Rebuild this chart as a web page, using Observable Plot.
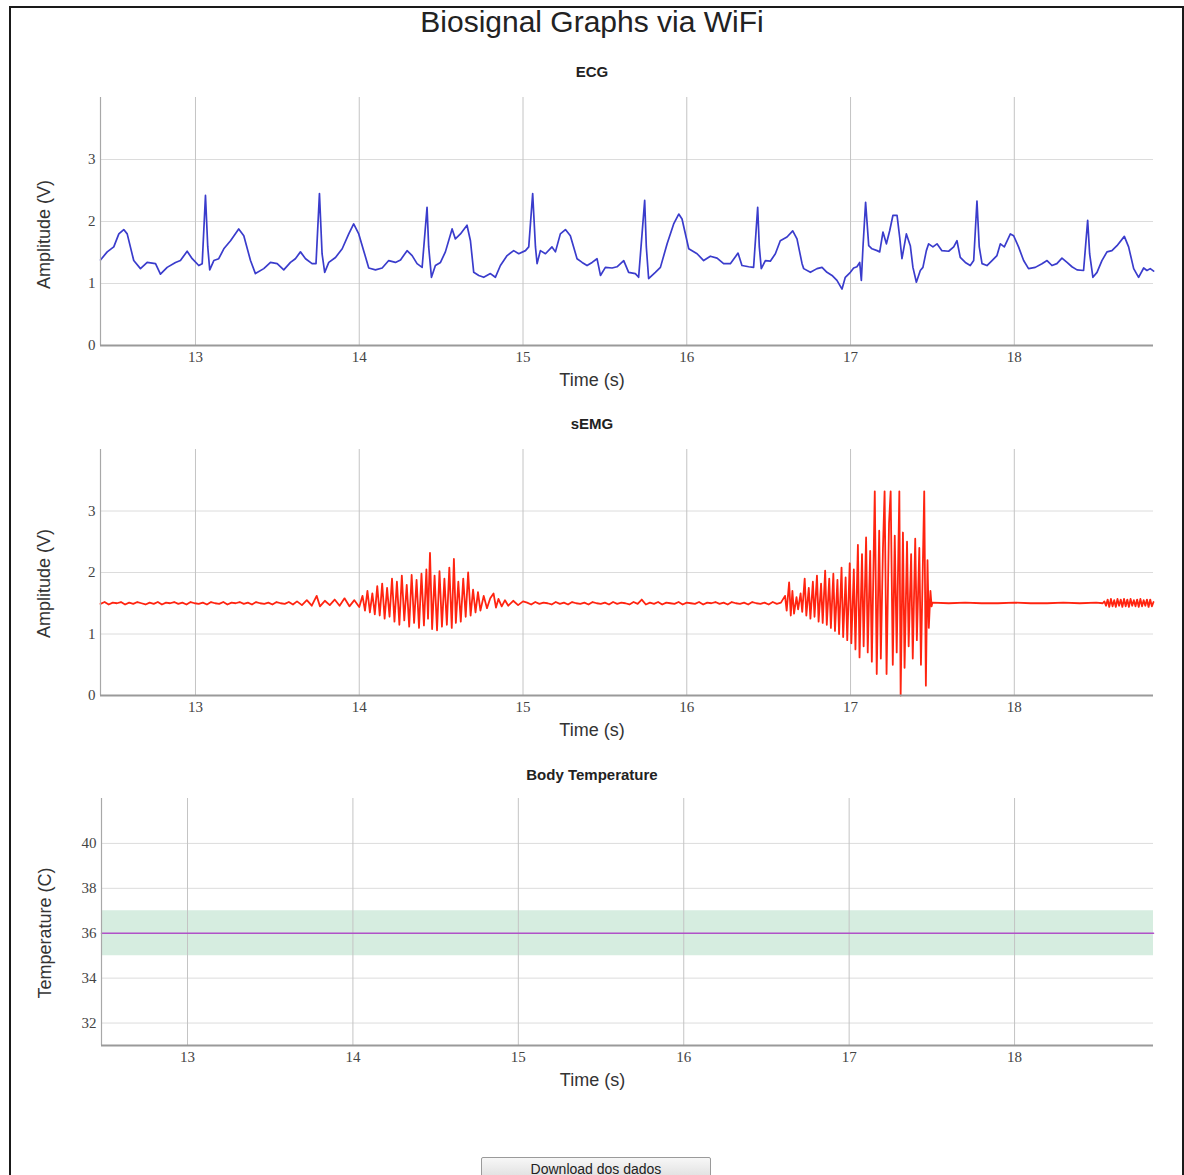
<!DOCTYPE html>
<html>
<head>
<meta charset="utf-8">
<script src="https://cdn.jsdelivr.net/npm/d3@7"></script>
<script src="https://cdn.jsdelivr.net/npm/@observablehq/plot@0.6"></script>
<style>
  html, body { margin: 0; padding: 0; background: #fff; overflow: hidden; }
  #page { position: relative; width: 1184px; height: 1175px; font-family: "Liberation Sans", Arial, sans-serif; }
  #frame { position: absolute; left: 9px; top: 6px; width: 1171px; height: 1200px; border: 2px solid #1a1a1a; }
  h1 { position: absolute; left: 0; top: 5px; width: 1184px; margin: 0; text-align: center;
       font-weight: normal; font-size: 30px; line-height: 34px; color: #222; }
  .ptitle { position: absolute; left: 0; width: 1184px; text-align: center; font-weight: bold;
            font-size: 15px; line-height: 18px; color: #222; }
  .panel { position: absolute; left: 0; }
  #download { position: absolute; left: 481px; top: 1157px; width: 230px; height: 24px;
              font-family: "Liberation Sans", Arial, sans-serif; font-size: 14px; color: #222;
              background: linear-gradient(#f7f7f7, #dddddd); border: 1px solid #9a9a9a; border-radius: 2px; padding: 0; }
</style>
</head>
<body>
<div id="page">
  <div id="frame"></div>
  <h1>Biosignal Graphs via WiFi</h1>
  <div class="ptitle" style="top:63px">ECG</div>
  <div class="panel" id="ecg" style="top:87px"></div>
  <div class="ptitle" style="top:415px">sEMG</div>
  <div class="panel" id="emg" style="top:439px"></div>
  <div class="ptitle" style="top:766px">Body Temperature</div>
  <div class="panel" id="temp" style="top:788px"></div>
  <button id="download">Download dos dados</button>
</div>
<script>
// Shared time ticks (seconds)
const timeTicks = [13, 14, 15, 16, 17, 18];
const ecgTimeDomain = [12.42, 18.85];
const tempTimeDomain = [12.48, 18.84];
const voltDomain = [0, 4];
const voltTicks = [0, 1, 2, 3];
const voltGrid = [1, 2, 3];
const tempDomain = [31, 42];
const tempTicks = [32, 34, 36, 38, 40];

// ECG samples: time (s) and amplitude (V)
const ecgTime = [
  12.420, 12.461, 12.501, 12.532, 12.562, 12.583, 12.623, 12.664, 12.705, 12.756,
  12.786, 12.827, 12.878, 12.908, 12.949, 12.980, 13.020, 13.041, 13.061, 13.075,
  13.087, 13.112, 13.142, 13.173, 13.214, 13.264, 13.295, 13.336, 13.366, 13.417,
  13.458, 13.499, 13.539, 13.580, 13.610, 13.641, 13.672, 13.712, 13.736, 13.757,
  13.773, 13.789, 13.814, 13.855, 13.896, 13.936, 13.966, 13.997, 14.027, 14.058,
  14.099, 14.140, 14.180, 14.221, 14.252, 14.292, 14.323, 14.353, 14.384, 14.414,
  14.424, 14.441, 14.465, 14.496, 14.526, 14.567, 14.587, 14.618, 14.658, 14.679,
  14.699, 14.730, 14.760, 14.801, 14.831, 14.862, 14.903, 14.943, 14.974, 15.015,
  15.035, 15.059, 15.076, 15.086, 15.106, 15.137, 15.177, 15.198, 15.228, 15.259,
  15.289, 15.330, 15.361, 15.391, 15.422, 15.452, 15.473, 15.503, 15.544, 15.574,
  15.615, 15.645, 15.686, 15.706, 15.743, 15.753, 15.767, 15.808, 15.839, 15.880,
  15.920, 15.951, 15.971, 16.012, 16.063, 16.103, 16.144, 16.185, 16.225, 16.266,
  16.313, 16.337, 16.378, 16.408, 16.433, 16.443, 16.455, 16.480, 16.510, 16.541,
  16.571, 16.612, 16.647, 16.673, 16.704, 16.714, 16.755, 16.795, 16.826, 16.856,
  16.887, 16.917, 16.948, 16.968, 16.999, 17.019, 17.039, 17.056, 17.066, 17.076,
  17.092, 17.111, 17.131, 17.162, 17.178, 17.198, 17.219, 17.239, 17.259, 17.284,
  17.300, 17.314, 17.341, 17.365, 17.381, 17.402, 17.426, 17.442, 17.463, 17.477,
  17.503, 17.528, 17.558, 17.599, 17.630, 17.650, 17.670, 17.701, 17.731, 17.752,
  17.772, 17.786, 17.803, 17.833, 17.864, 17.894, 17.915, 17.939, 17.976, 17.996,
  18.026, 18.057, 18.087, 18.128, 18.169, 18.200, 18.230, 18.260, 18.291, 18.322,
  18.352, 18.383, 18.423, 18.448, 18.460, 18.480, 18.505, 18.535, 18.566, 18.596,
  18.627, 18.672, 18.698, 18.729, 18.759, 18.790, 18.810, 18.830, 18.851
];
const ecgValue = [
  1.38, 1.51, 1.59, 1.80, 1.87, 1.80, 1.37, 1.24, 1.34, 1.32,
  1.15, 1.26, 1.34, 1.37, 1.52, 1.40, 1.29, 1.32, 2.42, 1.59,
  1.22, 1.37, 1.40, 1.56, 1.69, 1.88, 1.77, 1.37, 1.16, 1.24,
  1.34, 1.32, 1.22, 1.34, 1.40, 1.51, 1.40, 1.32, 1.32, 2.45,
  1.48, 1.18, 1.34, 1.42, 1.56, 1.80, 1.96, 1.80, 1.53, 1.25,
  1.22, 1.25, 1.37, 1.34, 1.38, 1.53, 1.45, 1.32, 1.26, 2.23,
  1.59, 1.10, 1.29, 1.34, 1.51, 1.88, 1.72, 1.80, 1.94, 1.69,
  1.18, 1.13, 1.10, 1.16, 1.10, 1.29, 1.45, 1.53, 1.48, 1.53,
  1.59, 2.45, 1.59, 1.32, 1.53, 1.48, 1.59, 1.51, 1.80, 1.87,
  1.77, 1.40, 1.34, 1.29, 1.34, 1.40, 1.13, 1.26, 1.25, 1.27,
  1.37, 1.18, 1.16, 1.10, 2.34, 1.59, 1.08, 1.18, 1.26, 1.64,
  1.96, 2.12, 2.04, 1.56, 1.48, 1.37, 1.44, 1.41, 1.32, 1.32,
  1.49, 1.29, 1.27, 1.26, 2.23, 1.59, 1.24, 1.37, 1.36, 1.48,
  1.69, 1.75, 1.85, 1.72, 1.32, 1.24, 1.18, 1.24, 1.26, 1.18,
  1.13, 1.05, 0.91, 1.10, 1.18, 1.25, 1.27, 1.34, 1.05, 1.59,
  2.31, 1.61, 1.56, 1.53, 1.51, 1.83, 1.64, 1.85, 2.10, 2.10,
  1.75, 1.40, 1.80, 1.61, 1.26, 1.02, 1.21, 1.26, 1.53, 1.64,
  1.59, 1.64, 1.53, 1.52, 1.59, 1.69, 1.42, 1.34, 1.29, 1.37,
  2.33, 1.59, 1.32, 1.29, 1.37, 1.45, 1.64, 1.59, 1.80, 1.77,
  1.59, 1.37, 1.24, 1.26, 1.32, 1.37, 1.29, 1.32, 1.41, 1.34,
  1.27, 1.22, 1.21, 2.02, 1.48, 1.10, 1.18, 1.37, 1.51, 1.53,
  1.61, 1.76, 1.59, 1.24, 1.10, 1.25, 1.21, 1.24, 1.20
];

// sEMG samples: time (s) and amplitude (V)
const emgTime = [
  // resting baseline
  12.420, 12.445, 12.470, 12.495, 12.520, 12.545, 12.570, 12.595, 12.620, 12.645,
  12.670, 12.695, 12.720, 12.745, 12.770, 12.795, 12.820, 12.845, 12.870, 12.895,
  12.920, 12.945, 12.970, 12.995, 13.020, 13.045, 13.070, 13.095, 13.120, 13.145,
  13.170, 13.195, 13.220, 13.245, 13.270, 13.295, 13.320, 13.345, 13.370, 13.395,
  13.420, 13.445, 13.470, 13.495, 13.520, 13.545, 13.570, 13.595,
  // onset of first contraction
  13.62, 13.65, 13.68, 13.71, 13.74, 13.76, 13.79, 13.82, 13.85, 13.88,
  13.91, 13.94, 13.97, 14.00,
  // first contraction
  14.020, 14.035, 14.050, 14.065, 14.080, 14.095, 14.110, 14.125, 14.140, 14.155,
  14.170, 14.185, 14.200, 14.215, 14.230, 14.245, 14.260, 14.275, 14.290, 14.305,
  14.320, 14.335, 14.350, 14.365, 14.380, 14.395, 14.410, 14.420, 14.432, 14.445,
  14.460, 14.475, 14.490, 14.505, 14.520, 14.535, 14.550, 14.565, 14.578, 14.590,
  14.605, 14.620, 14.635, 14.650, 14.665, 14.680, 14.695, 14.710, 14.725, 14.740,
  14.76, 14.78, 14.80, 14.82, 14.835, 14.85, 14.87, 14.89, 14.91, 14.94,
  14.97, 15.00,
  // resting baseline
  15.025, 15.050, 15.075, 15.100, 15.125, 15.150, 15.175, 15.200, 15.225, 15.250,
  15.275, 15.300, 15.325, 15.350, 15.375, 15.400, 15.425, 15.450, 15.475, 15.500,
  15.525, 15.550, 15.575, 15.600, 15.625, 15.650, 15.675, 15.700, 15.725, 15.750,
  15.775, 15.800, 15.825, 15.850, 15.875, 15.900, 15.925, 15.950, 15.975, 16.000,
  16.025, 16.050, 16.075, 16.100, 16.125, 16.150, 16.175, 16.200, 16.225, 16.250,
  16.275, 16.300, 16.325, 16.350, 16.375, 16.400, 16.425, 16.450, 16.475, 16.500,
  16.525, 16.550, 16.575,
  // second contraction
  16.600, 16.610, 16.625, 16.635, 16.645, 16.655, 16.670, 16.680, 16.695, 16.705,
  16.720, 16.730, 16.745, 16.755, 16.770, 16.780, 16.795, 16.805, 16.820, 16.830,
  16.845, 16.855, 16.870, 16.880, 16.895, 16.905, 16.920, 16.930, 16.945, 16.955,
  16.970, 16.980, 16.995, 17.005, 17.020, 17.030, 17.045, 17.055, 17.070, 17.080,
  17.095, 17.105, 17.120, 17.130, 17.148, 17.160, 17.175, 17.185, 17.198, 17.208,
  17.220, 17.235, 17.245, 17.258, 17.270, 17.282, 17.298, 17.306, 17.320, 17.330,
  17.345, 17.355, 17.370, 17.380, 17.395, 17.405, 17.420, 17.430, 17.450, 17.460,
  17.470, 17.478, 17.488, 17.495,
  // quiet signal
  17.50, 17.60, 17.70, 17.80, 17.90, 18.00, 18.10, 18.20, 18.30, 18.40,
  18.50, 18.54,
  // noise at the end of the recording
  18.55, 18.56, 18.57, 18.58, 18.59, 18.60, 18.61, 18.62, 18.63, 18.64,
  18.65, 18.66, 18.67, 18.68, 18.69, 18.70, 18.71, 18.72, 18.73, 18.74,
  18.75, 18.76, 18.77, 18.78, 18.79, 18.80, 18.81, 18.82, 18.83, 18.84, 18.85
];
const emgValue = [
  1.49, 1.52, 1.48, 1.51, 1.50, 1.52, 1.48, 1.51, 1.49, 1.52,
  1.50, 1.48, 1.51, 1.49, 1.52, 1.48, 1.51, 1.50, 1.52, 1.49,
  1.51, 1.48, 1.52, 1.50, 1.49, 1.51, 1.48, 1.52, 1.50, 1.49,
  1.52, 1.48, 1.51, 1.50, 1.52, 1.49, 1.51, 1.48, 1.52, 1.50,
  1.49, 1.51, 1.48, 1.52, 1.50, 1.49, 1.52, 1.48,
  1.53, 1.47, 1.55, 1.46, 1.62, 1.45, 1.54, 1.47, 1.56, 1.46,
  1.58, 1.45, 1.55, 1.44,
  1.62, 1.38, 1.70, 1.35, 1.66, 1.32, 1.78, 1.30, 1.82, 1.25,
  1.75, 1.28, 1.90, 1.20, 1.85, 1.15, 1.95, 1.22, 1.80, 1.12,
  1.96, 1.18, 1.88, 1.10, 1.98, 1.14, 2.05, 1.25, 2.32, 1.08,
  1.95, 1.06, 2.02, 1.12, 1.90, 1.15, 2.08, 1.10, 2.22, 1.18,
  1.85, 1.20, 1.90, 1.28, 2.00, 1.30, 1.72, 1.35, 1.68, 1.38,
  1.62, 1.42, 1.58, 1.66, 1.43, 1.57, 1.45, 1.55, 1.46, 1.54,
  1.47, 1.53,
  1.51, 1.48, 1.52, 1.49, 1.51, 1.50, 1.48, 1.52, 1.49, 1.51,
  1.48, 1.52, 1.50, 1.49, 1.51, 1.48, 1.52, 1.50, 1.49, 1.51,
  1.48, 1.52, 1.49, 1.51, 1.50, 1.48, 1.52, 1.49, 1.56, 1.48,
  1.51, 1.49, 1.52, 1.48, 1.51, 1.50, 1.49, 1.52, 1.48, 1.51,
  1.50, 1.49, 1.52, 1.48, 1.51, 1.50, 1.52, 1.49, 1.51, 1.48,
  1.52, 1.50, 1.49, 1.51, 1.48, 1.52, 1.50, 1.49, 1.51, 1.48,
  1.52, 1.49, 1.51,
  1.62, 1.38, 1.84, 1.30, 1.70, 1.33, 1.60, 1.40, 1.66, 1.36,
  1.90, 1.30, 1.75, 1.25, 1.85, 1.28, 1.95, 1.20, 1.82, 1.18,
  2.03, 1.15, 1.90, 1.10, 1.98, 1.05, 1.88, 1.00, 2.08, 0.95,
  1.92, 0.90, 2.15, 0.85, 2.05, 0.75, 2.45, 0.62, 2.30, 0.80,
  2.57, 0.70, 2.35, 0.55, 3.32, 0.35, 2.68, 0.60, 2.40, 3.32,
  0.35, 2.80, 3.32, 0.50, 2.60, 0.70, 3.32, 0.00, 2.65, 0.45,
  2.50, 0.80, 2.30, 0.60, 2.55, 0.90, 2.40, 0.50, 3.32, 0.16,
  2.20, 1.10, 1.70, 1.45,
  1.51, 1.50, 1.51, 1.50, 1.50, 1.51, 1.50, 1.50, 1.51, 1.50,
  1.51, 1.50,
  1.53, 1.46, 1.56, 1.44, 1.57, 1.45, 1.55, 1.44, 1.57, 1.46,
  1.56, 1.44, 1.57, 1.45, 1.56, 1.44, 1.57, 1.46, 1.55, 1.45,
  1.56, 1.44, 1.57, 1.45, 1.55, 1.46, 1.56, 1.44, 1.56, 1.45, 1.52
];

// Body temperature readings (°C) and the normal band
const tempTime = [12.48, 13, 14, 15, 16, 17, 18, 18.84];
const tempValue = [36, 36, 36, 36, 36, 36, 36, 36];
const normalLow = 35;
const normalHigh = 37;

const ecgData = ecgTime.map((t, i) => ({t, v: ecgValue[i]}));
const emgData = emgTime.map((t, i) => ({t, v: emgValue[i]}));
const tempData = tempTime.map((t, i) => ({t, v: tempValue[i]}));

const W = 1184;
const axisFont = {fontFamily: "Liberation Sans, Arial, sans-serif", fontSize: 18, fill: "#333"};

function panel({data, xDomain, yDomain, yTicks, yGrid, yLabel, lineColor, lineWidth, left, plotH, labelShift, extra = []}) {
  return Plot.plot({
    width: W,
    height: 10 + plotH + 55,
    marginTop: 10,
    marginBottom: 55,
    marginLeft: left,
    marginRight: 31,
    style: {fontFamily: "Liberation Serif, Times New Roman, serif", fontSize: "15px", color: "#444", background: "transparent", overflow: "visible"},
    x: {domain: xDomain},
    y: {domain: yDomain},
    marks: [
      ...extra,
      Plot.gridY(yGrid, {stroke: "#dcdcdc", strokeOpacity: 1}),
      Plot.gridX(timeTicks, {stroke: "#c4c4c4", strokeOpacity: 1}),
      Plot.lineY(data, {x: "t", y: "v", stroke: lineColor, strokeWidth: lineWidth, curve: "linear"}),
      Plot.ruleX([xDomain[0]], {stroke: "#a8a8a8", strokeWidth: 1.2}),
      Plot.ruleY([yDomain[0]], {stroke: "#9a9a9a", strokeWidth: 2}),
      Plot.axisX(timeTicks, {tickSize: 0, tickPadding: 6, tickFormat: d => String(d), label: null}),
      Plot.axisY(yTicks, {tickSize: 0, tickPadding: 5, tickFormat: d => String(d), label: null}),
      Plot.text(["Time (s)"], {text: d => d, frameAnchor: "bottom", dx: -35, dy: 40, ...axisFont}),
      Plot.text([yLabel], {text: d => d, frameAnchor: "left", textAnchor: "middle", dx: -56, dy: labelShift, rotate: -90, ...axisFont})
    ]
  });
}

document.getElementById("ecg").append(panel({
  data: ecgData, xDomain: ecgTimeDomain, yDomain: voltDomain, yTicks: voltTicks, yGrid: voltGrid,
  yLabel: "Amplitude (V)", lineColor: "#3a3ccc", lineWidth: 1.7, left: 100, plotH: 248, labelShift: 13
}));

document.getElementById("emg").append(panel({
  data: emgData, xDomain: ecgTimeDomain, yDomain: voltDomain, yTicks: voltTicks, yGrid: voltGrid,
  yLabel: "Amplitude (V)", lineColor: "#ff2410", lineWidth: 1.8, left: 100, plotH: 246, labelShift: 11
}));

document.getElementById("temp").append(panel({
  data: tempData, xDomain: tempTimeDomain, yDomain: tempDomain, yTicks: tempTicks, yGrid: tempTicks,
  yLabel: "Temperature (C)", lineColor: "#b052c8", lineWidth: 1.6, left: 101, plotH: 247, labelShift: 11,
  extra: [Plot.areaY(tempData, {x: "t", y1: normalLow, y2: normalHigh, fill: "#d6ede0", fillOpacity: 1})]
}));
</script>
</body>
</html>
